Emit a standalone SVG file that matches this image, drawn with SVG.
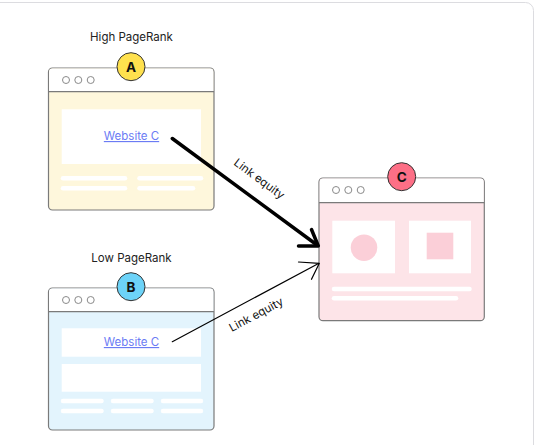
<svg xmlns="http://www.w3.org/2000/svg" width="542" height="445" viewBox="0 0 542 445">
<style>
.frame{fill:#fff;stroke:#dcdce0;stroke-width:1}
.win{stroke:#7a7a7a;stroke-width:1.2}
.hdr{fill:#fff}
.dot{fill:#fff;stroke:#8a8a8a;stroke-width:1}
.inner{fill:#fff}
.bar{stroke:#fff;stroke-width:4.5;stroke-linecap:round}
.badge{stroke:#333;stroke-width:1}
.blabel{font-family:Inter,"Liberation Sans",sans-serif;font-size:13.5px;font-weight:700;fill:#111;text-anchor:middle}
.title{font-family:Inter,"Liberation Sans",sans-serif;font-size:11.5px;fill:#222;text-anchor:middle}
.link{font-family:Inter,"Liberation Sans",sans-serif;font-size:11.5px;fill:#6b7cf4;text-anchor:middle;text-decoration:underline}
.eq{font-family:Inter,"Liberation Sans",sans-serif;font-size:11.5px;fill:#111;text-anchor:middle}
.pinkshape{fill:#fbcfd8}
</style>
<rect class="frame" x="-10" y="2.5" width="543.5" height="460" rx="8"/>

<text class="title" x="131.5" y="41">High PageRank</text>
<text class="title" x="131.5" y="262">Low PageRank</text>

<g id="nodeA">
<rect class="win" x="48.5" y="68" width="165.5" height="142" rx="4" fill="#fef7dc"/>
<path class="hdr" d="M52.5 68.6 H210 a3.4 3.4 0 0 1 3.4 3.4 V91.7 H49.1 V72 a3.4 3.4 0 0 1 3.4 -3.4 Z"/>
<line x1="48.5" y1="91.7" x2="214" y2="91.7" stroke="#7a7a7a" stroke-width="1.2"/>
<circle class="dot" cx="66" cy="80" r="3.5"/>
<circle class="dot" cx="78.3" cy="80" r="3.5"/>
<circle class="dot" cx="90.7" cy="80" r="3.5"/>
<rect class="inner" x="61.7" y="109.3" width="139.3" height="54.7"/>
<text class="link" x="131.5" y="140">Website C</text>
<line class="bar" x1="63" y1="178.3" x2="125" y2="178.3"/>
<line class="bar" x1="139.5" y1="178.3" x2="201" y2="178.3"/>
<line class="bar" x1="63" y1="188.3" x2="125" y2="188.3"/>
<line class="bar" x1="139.5" y1="188.3" x2="193" y2="188.3"/>
<circle class="badge" cx="131" cy="66.7" r="14" fill="#ffe14e"/>
<text class="blabel" x="131" y="71.5">A</text>
</g>

<g id="nodeB">
<rect class="win" x="48.5" y="288" width="165.5" height="142" rx="4" fill="#e3f4fd"/>
<path class="hdr" d="M52.5 288.6 H210 a3.4 3.4 0 0 1 3.4 3.4 V311.7 H49.1 V292 a3.4 3.4 0 0 1 3.4 -3.4 Z"/>
<line x1="48.5" y1="311.7" x2="214" y2="311.7" stroke="#7a7a7a" stroke-width="1.2"/>
<circle class="dot" cx="66" cy="300" r="3.5"/>
<circle class="dot" cx="78.3" cy="300" r="3.5"/>
<circle class="dot" cx="90.7" cy="300" r="3.5"/>
<rect class="inner" x="61.7" y="328.3" width="139.3" height="28.4"/>
<text class="link" x="131.5" y="346">Website C</text>
<rect class="inner" x="61.7" y="364" width="139.3" height="27.7"/>
<line class="bar" x1="63" y1="401" x2="101.5" y2="401"/>
<line class="bar" x1="113" y1="401" x2="151.5" y2="401"/>
<line class="bar" x1="163" y1="401" x2="201" y2="401"/>
<line class="bar" x1="63" y1="411" x2="101.5" y2="411"/>
<line class="bar" x1="113" y1="411" x2="151.5" y2="411"/>
<line class="bar" x1="163" y1="411" x2="201" y2="411"/>
<circle class="badge" cx="131" cy="286.7" r="14" fill="#6dd3f8"/>
<text class="blabel" x="131" y="291.5">B</text>
</g>

<g id="nodeC">
<rect class="win" x="319" y="178" width="165.3" height="142.7" rx="4" fill="#fde4e8"/>
<path class="hdr" d="M323 178.6 H480.3 a3.4 3.4 0 0 1 3.4 3.4 V202.7 H319.6 V182 a3.4 3.4 0 0 1 3.4 -3.4 Z"/>
<line x1="319" y1="202.7" x2="484.3" y2="202.7" stroke="#7a7a7a" stroke-width="1.2"/>
<circle class="dot" cx="336" cy="190" r="3.5"/>
<circle class="dot" cx="348.3" cy="190" r="3.5"/>
<circle class="dot" cx="360.7" cy="190" r="3.5"/>
<rect class="inner" x="332.3" y="220.7" width="62.7" height="52.6"/>
<rect class="inner" x="409" y="220.7" width="62" height="52.6"/>
<circle class="pinkshape" cx="364" cy="247.7" r="13.3"/>
<rect class="pinkshape" x="426.7" y="232.7" width="26.6" height="26.6"/>
<line class="bar" x1="334" y1="289" x2="469.5" y2="289"/>
<line class="bar" x1="334" y1="298.3" x2="456" y2="298.3"/>
<circle class="badge" cx="401.7" cy="176.7" r="14" fill="#fd6f86"/>
<text class="blabel" x="401.7" y="181.5">C</text>
</g>

<g id="connectors" fill="none" stroke="#000" stroke-linecap="round" stroke-linejoin="round">
<line x1="172.3" y1="138.5" x2="317" y2="245" stroke-width="3.5"/>
<polyline points="298.5,246 318.3,246 311.5,229.5" stroke-width="3.5"/>
<line x1="172.3" y1="341.7" x2="318.5" y2="263.5" stroke-width="1.2"/>
<polyline points="298.5,262 319.3,263.3 311.5,279.3" stroke-width="1.2"/>
<text class="eq" stroke="none" fill="#111" transform="translate(257,182) rotate(36.5)">Link equity</text>
<text class="eq" stroke="none" fill="#111" transform="translate(258,318) rotate(-28)">Link equity</text>
</g>
</svg>
